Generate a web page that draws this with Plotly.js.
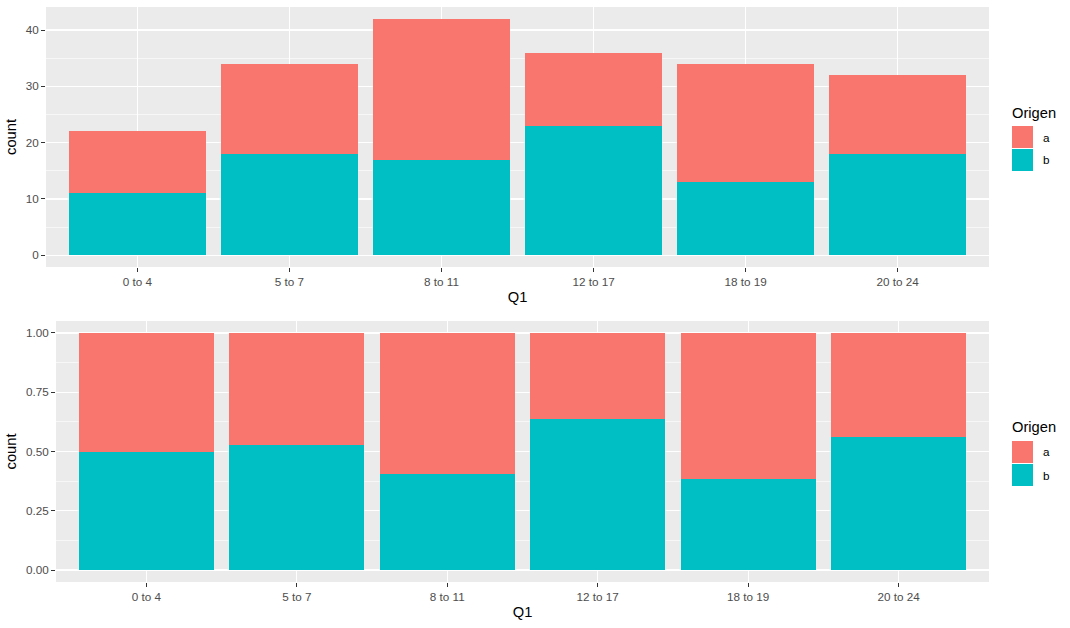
<!DOCTYPE html>
<html>
<head>
<meta charset="utf-8">
<script src="https://cdn.plot.ly/plotly-3.0.1.min.js"></script>
<style>html,body{margin:0;padding:0;background:#fff;}#chart{width:1070px;height:628px;}</style>
</head>
<body>
<div id="chart"></div>
<script>
const categories = ["0 to 4", "5 to 7", "8 to 11", "12 to 17", "18 to 19", "20 to 24"];
const countA = [11, 16, 25, 13, 21, 14];
const countB = [11, 18, 17, 23, 13, 18];
const groups = ["a", "b"];
const groupColors = {a: "#F8766D", b: "#00BFC4"};
const legendTitle = "Origen";
const xTitle = "Q1";
const yTitle = "count";

const totals = countA.map((v, i) => v + countB[i]);
const propA = countA.map((v, i) => v / totals[i]);
const propB = countB.map((v, i) => v / totals[i]);

const traces = [
  {type: "bar", x: categories, y: countB, name: "b", marker: {color: groupColors.b, line: {width: 0}}, width: 0.9, xaxis: "x", yaxis: "y", showlegend: false, hoverinfo: "x+y+name"},
  {type: "bar", x: categories, y: countA, name: "a", marker: {color: groupColors.a, line: {width: 0}}, width: 0.9, xaxis: "x", yaxis: "y", showlegend: false, hoverinfo: "x+y+name"},
  {type: "bar", x: categories, y: propB, name: "b", marker: {color: groupColors.b, line: {width: 0}}, width: 0.9, xaxis: "x2", yaxis: "y2", showlegend: false, hoverinfo: "x+y+name"},
  {type: "bar", x: categories, y: propA, name: "a", marker: {color: groupColors.a, line: {width: 0}}, width: 0.9, xaxis: "x2", yaxis: "y2", showlegend: false, hoverinfo: "x+y+name"}
];

const tickFont = {family: "Liberation Sans, Arial, sans-serif", size: 11.7, color: "#4D4D4D"};
const titleFont = {family: "Liberation Sans, Arial, sans-serif", size: 14.7, color: "#000000"};

function xAxis(domain, anchor) {
  return {
    domain: domain, anchor: anchor, type: "category", range: [-0.6, 5.6],
    showgrid: true, gridcolor: "#FFFFFF", gridwidth: 1.3,
    ticks: "outside", ticklen: 4, tickcolor: "#333333", tickwidth: 1,
    tickfont: tickFont, showline: false, zeroline: false, fixedrange: true,
    title: {text: xTitle, font: titleFont, standoff: 4}, automargin: false
  };
}
function yAxis(domain, anchor, range, dtick, minorDtick, fmt) {
  return {
    domain: domain, anchor: anchor, range: range, dtick: dtick, tick0: 0,
    tickformat: fmt,
    showgrid: true, gridcolor: "#FFFFFF", gridwidth: 1.3,
    minor: {dtick: minorDtick, tick0: 0, showgrid: true, gridcolor: "#FFFFFF", gridwidth: 0.6, ticks: ""},
    ticks: "outside", ticklen: 4, tickcolor: "#333333", tickwidth: 1,
    tickfont: tickFont, showline: false, zeroline: false, fixedrange: true,
    title: {text: yTitle, font: titleFont, standoff: 5}, automargin: false
  };
}

const topY = [1 - 267/628, 1 - 7/628];
const botY = [1 - 582/628, 1 - 321/628];

// legend keys (paper coords, pixel-based)
function px(x) { return x / 1070; }
function py(y) { return 1 - y / 628; }
const shapes = [];
const annotations = [];
function addLegend(titleY, keyTop) {
  annotations.push({xref: "paper", yref: "paper", x: px(1010), y: py(titleY), xanchor: "left", yanchor: "middle",
    text: legendTitle, showarrow: false, font: titleFont});
  groups.forEach((g, i) => {
    const t = keyTop + i * 23;
    shapes.push({type: "rect", xref: "paper", yref: "paper", x0: px(1012), x1: px(1033), y0: py(t), y1: py(t + 22),
      fillcolor: groupColors[g], line: {width: 0}, layer: "above"});
    annotations.push({xref: "paper", yref: "paper", x: px(1041), y: py(t + 11), xanchor: "left", yanchor: "middle",
      text: g, showarrow: false, font: {family: "Liberation Sans, Arial, sans-serif", size: 11.7, color: "#000000"}});
  });
}
addLegend(113, 126);
addLegend(427, 441);

const layout = {
  width: 1070, height: 628,
  margin: {l: 0, r: 0, t: 0, b: 0},
  paper_bgcolor: "#FFFFFF", plot_bgcolor: "#EBEBEB",
  barmode: "stack", bargap: 0.1,
  showlegend: false,
  xaxis: xAxis([46/1070, 989/1070], "y"),
  yaxis: yAxis(topY, "x", [-2.1, 44.1], 10, 5, "d"),
  xaxis2: xAxis([56/1070, 989/1070], "y2"),
  yaxis2: yAxis(botY, "x2", [-0.05, 1.05], 0.25, 0.125, ".2f"),
  shapes: shapes,
  annotations: annotations,
  font: {family: "Liberation Sans, Arial, sans-serif"}
};

Plotly.newPlot("chart", traces, layout, {staticPlot: true, displayModeBar: false});
</script>
</body>
</html>
